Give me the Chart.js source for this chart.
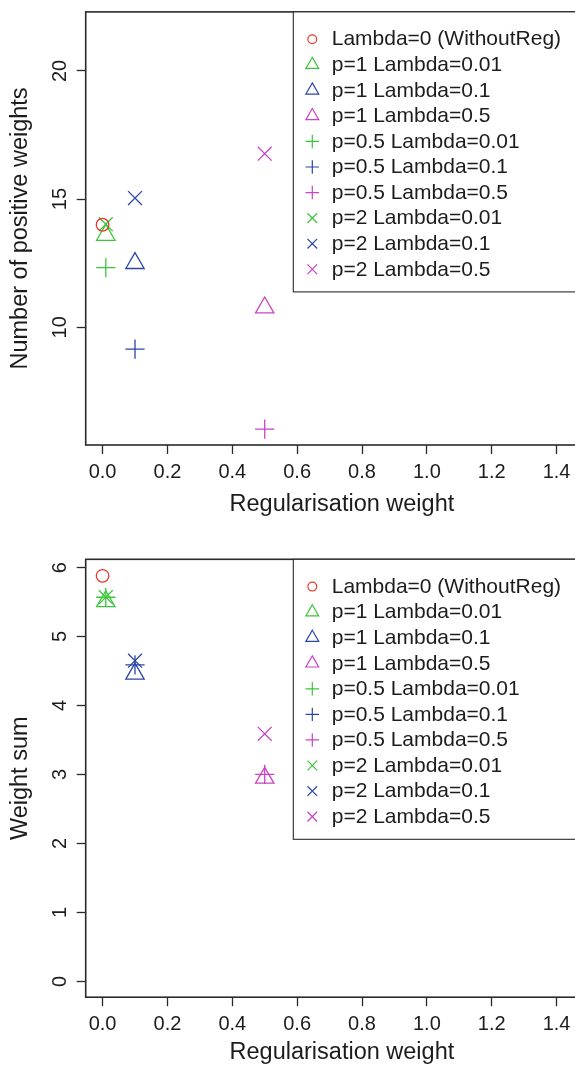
<!DOCTYPE html>
<html>
<head>
<meta charset="utf-8">
<script src="https://cdn.jsdelivr.net/npm/chart.js@4/dist/chart.umd.min.js"></script>
<style>
  html, body { margin: 0; padding: 0; background: #fff; overflow: hidden; width: 575px; height: 1071px; }
  .panel { position: absolute; left: 0; }
  #panelTop { top: 0; }
  #panelBottom { top: 535px; }
</style>
</head>
<body>
<div class="panel" id="panelTop"><canvas id="chartPositive" width="610" height="535"></canvas></div>
<div class="panel" id="panelBottom"><canvas id="chartSum" width="610" height="536"></canvas></div>
<script>
// Series: one point per regularisation setting
const seriesLabels = [
  'Lambda=0 (WithoutReg)',
  'p=1 Lambda=0.01', 'p=1 Lambda=0.1', 'p=1 Lambda=0.5',
  'p=0.5 Lambda=0.01', 'p=0.5 Lambda=0.1', 'p=0.5 Lambda=0.5',
  'p=2 Lambda=0.01', 'p=2 Lambda=0.1', 'p=2 Lambda=0.5'
];
const lambdas = [0, 0.01, 0.1, 0.5, 0.01, 0.1, 0.5, 0.01, 0.1, 0.5];
const positiveWeights = [14.0, 13.6, 12.5, 10.77, 12.33, 9.15, 6.03, 14.02, 15.04, 16.77];
const weightSums = [5.88, 5.51, 4.46, 2.95, 5.57, 4.59, 3.0, 5.57, 4.65, 3.59];
const seriesColors = ['#E8362E', '#3DC43D', '#2C45A8', '#C844C4',
                      '#3DC43D', '#2C45A8', '#C844C4',
                      '#3DC43D', '#2C45A8', '#C844C4'];
const seriesShapes = ['circle', 'triangle', 'triangle', 'triangle',
                      'cross', 'cross', 'cross', 'crossRot', 'crossRot', 'crossRot'];

// Axes
const xTicks = [0, 0.2, 0.4, 0.6, 0.8, 1.0, 1.2, 1.4];
const xTickLabels = ['0.0', '0.2', '0.4', '0.6', '0.8', '1.0', '1.2', '1.4'];
const xRange = [-0.052, 1.528];
const topYTicks = [10, 15, 20];
const topYTickLabels = ['10', '15', '20'];
const topYRange = [5.41, 22.30];
const bottomYTicks = [0, 1, 2, 3, 4, 5, 6];
const bottomYTickLabels = ['0', '1', '2', '3', '4', '5', '6'];
const bottomYRange = [-0.23, 6.12];

const FONT = '"Liberation Sans", Arial, Helvetica, sans-serif';
const INK = '#1c1c1c';
const shapeRadius = { circle: 6.3, triangle: 10.6, cross: 9.6, crossRot: 9.8 };
const LEGEND_SCALE = 0.7;

function makeDatasets(values) {
  return seriesLabels.map((label, i) => ({
    label,
    data: [{ x: lambdas[i], y: values[i] }],
    pointStyle: seriesShapes[i],
    pointRadius: shapeRadius[seriesShapes[i]],
    pointHoverRadius: shapeRadius[seriesShapes[i]],
    pointBorderColor: seriesColors[i],
    pointBackgroundColor: 'rgba(0,0,0,0)',
    pointBorderWidth: 1.3,
    borderColor: seriesColors[i],
    backgroundColor: 'rgba(0,0,0,0)',
    showLine: false
  }));
}

// Plot frame around the chart area
const framePlugin = {
  id: 'frame',
  afterDatasetsDraw(chart) {
    const { ctx, chartArea: a } = chart;
    ctx.save();
    ctx.strokeStyle = '#2a2a2a';
    ctx.lineWidth = 1.6;
    ctx.strokeRect(a.left, a.top, a.right - a.left, a.bottom - a.top);
    ctx.restore();
  }
};

// Y tick labels written parallel to the axis
const yLabelPlugin = {
  id: 'yLabels',
  afterDraw(chart, args, opts) {
    const { ctx } = chart;
    const scale = chart.scales.y;
    ctx.save();
    ctx.fillStyle = INK;
    ctx.font = '20px ' + FONT;
    ctx.textAlign = 'center';
    ctx.textBaseline = 'alphabetic';
    opts.values.forEach((v, i) => {
      const y = scale.getPixelForValue(v);
      ctx.save();
      ctx.translate(scale.right - 20.2, y);
      ctx.rotate(-Math.PI / 2);
      ctx.fillText(opts.labels[i], 0, 0);
      ctx.restore();
    });
    ctx.restore();
  }
};

// Boxed legend in the top-right corner of the plot
const boxLegendPlugin = {
  id: 'boxLegend',
  afterDatasetsDraw(chart) {
    const { ctx, chartArea: a } = chart;
    const left = 293.3, top = a.top, height = 280;
    ctx.save();
    ctx.fillStyle = '#fff';
    ctx.fillRect(left, top, a.right - left, height);
    ctx.strokeStyle = '#2a2a2a';
    ctx.lineWidth = 1.1;
    ctx.strokeRect(left, top, a.right - left, height);
    ctx.font = '21px ' + FONT;
    ctx.textBaseline = 'middle';
    ctx.textAlign = 'left';
    chart.data.datasets.forEach((ds, i) => {
      const y = top + 27.3 + i * 25.56;
      ctx.strokeStyle = ds.pointBorderColor;
      ctx.fillStyle = 'rgba(0,0,0,0)';
      ctx.lineWidth = 1.2;
      Chart.helpers.drawPoint(ctx, {
        pointStyle: ds.pointStyle,
        radius: ds.pointRadius * LEGEND_SCALE,
        rotation: 0,
        borderWidth: 1.2
      }, 312.3, y);
      ctx.fillStyle = INK;
      ctx.fillText(ds.label, 331.7, y + 0.5);
    });
    ctx.restore();
  }
};

function makeChart(canvasId, values, yRange, yTicks, yTickLabels, yTitle, geom) {
  return new Chart(document.getElementById(canvasId), {
    type: 'scatter',
    data: { datasets: makeDatasets(values) },
    options: {
      responsive: false,
      animation: false,
      devicePixelRatio: 1,
      events: [],
      layout: { padding: { top: geom.top, right: 10.7, left: 0, bottom: 0 } },
      plugins: {
        legend: { display: false },
        tooltip: { enabled: false },
        yLabels: { values: yTicks, labels: yTickLabels }
      },
      scales: {
        x: {
          type: 'linear',
          min: xRange[0],
          max: xRange[1],
          afterBuildTicks: s => { s.ticks = xTicks.map(v => ({ value: v })); },
          afterFit: s => { s.height = geom.xHeight; },
          border: { display: false },
          grid: { drawOnChartArea: false, drawTicks: true, tickLength: 9, tickColor: '#2a2a2a', tickWidth: 1.3 },
          ticks: {
            autoSkip: false, maxRotation: 0, minRotation: 0, padding: 6.4,
            color: INK, font: { family: FONT, size: 20 },
            callback: (v, i) => xTickLabels[i]
          },
          title: {
            display: true, text: 'Regularisation weight', color: INK,
            font: { family: FONT, size: 23.5 },
            padding: { top: 0, bottom: geom.titleBottom }
          }
        },
        y: {
          type: 'linear',
          min: yRange[0],
          max: yRange[1],
          afterBuildTicks: s => { s.ticks = yTicks.map(v => ({ value: v })); },
          afterFit: s => { s.width = 85.7; },
          border: { display: false },
          grid: { drawOnChartArea: false, drawTicks: true, tickLength: 9, tickColor: '#2a2a2a', tickWidth: 1.3 },
          ticks: { callback: () => '', padding: 0 },
          title: {
            display: true, text: yTitle, color: INK,
            font: { family: FONT, size: 23.5 },
            padding: { top: 6.4, bottom: 0 }
          }
        }
      }
    },
    plugins: [framePlugin, yLabelPlugin, boxLegendPlugin]
  });
}

makeChart('chartPositive', positiveWeights, topYRange, topYTicks, topYTickLabels,
  'Number of positive weights', { top: 6, xHeight: 90, titleBottom: 16.1 });
makeChart('chartSum', weightSums, bottomYRange, bottomYTicks, bottomYTickLabels,
  'Weight sum', { top: 24.3, xHeight: 73.8, titleBottom: 4.1 });
</script>
</body>
</html>
